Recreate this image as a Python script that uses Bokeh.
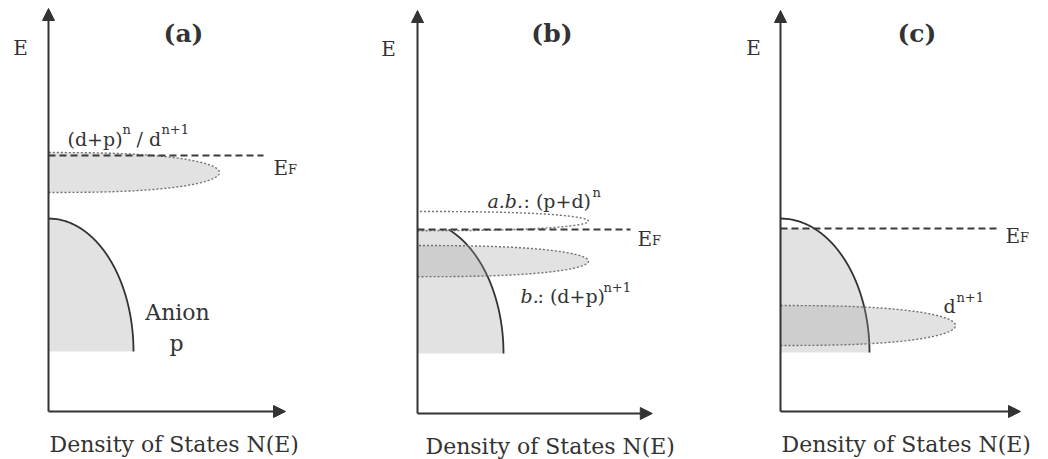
import numpy as np
from bokeh.plotting import figure
from bokeh.layouts import row
from bokeh.models import Range1d, Arrow, NormalHead
from bokeh.core.properties import value
from bokeh.embed import file_html
from bokeh.resources import INLINE

# ---------------- schematic data (arbitrary units: E up, N(E) right) ----------------
panel_titles = ["(a)", "(b)", "(c)"]
axis_E_max = [100.75, 100.75, 100.25]
axis_N_max = [59.25, 58.7, 60.0]

fermi_level = [64.0, 46.0, 45.75]
fermi_line_end = [53.75, 53.25, 54.5]

# anion p band (quarter ellipse from the E axis), filled up to E_F
anion_bottom = [15.0, 15.0, 14.75]
anion_top = [48.25, 48.25, 48.25]
anion_width = [21.25, 21.5, 22.25]
anion_outline_clipped = [False, True, False]

# cation d / hybrid bands (half ellipses out of the E axis)
band_panel = [0, 1, 1, 2]
band_center = [59.75, 48.1, 38.1, 21.5]
band_half = [5.0, 2.4, 3.9, 5.0]
band_extent = [42.75, 42.75, 42.75, 43.75]
band_filled = [True, False, True, True]

x_label = "Density of States N(E)"
y_label = "E"

# ---------------- layout ----------------
PX = 4.0                      # pixels per unit
FIG_W = [349, 349, 350]
FIG_H = 459
CORNER = [(48, 411), (68, 413), (82, 411)]   # axis origin inside each figure (px)

FONT = value("DejaVu Serif")
INK = "#333333"
FILL = "#a0a0a0"
FILL_ALPHA = 0.3
BAND_LINE = "#707070"


def txt(p, x, y, s, size, style="normal", align="left"):
    p.text(x=[x], y=[y], text=[s], text_font=FONT, text_font_size=size,
           text_font_style=style, text_align=align, text_baseline="alphabetic",
           text_color=INK)


def make_panel(i):
    ox, oy = CORNER[i]
    w = FIG_W[i]
    p = figure(width=w, height=FIG_H, output_backend="svg", toolbar_location=None,
               x_axis_location=None, y_axis_location=None, min_border=0,
               x_range=Range1d(-ox / PX, (w - ox) / PX),
               y_range=Range1d(-(FIG_H - oy) / PX, oy / PX))
    p.grid.visible = False
    p.outline_line_color = None
    p.background_fill_color = "white"
    p.border_fill_color = "white"

    ef = fermi_level[i]

    # anion p band
    b0, b1, aw = anion_bottom[i], anion_top[i], anion_width[i]
    fill_top = min(b1, ef)
    t = np.linspace(0, 1, 200)
    e_fill = b0 + (fill_top - b0) * t
    n_fill = aw * np.sqrt(np.clip(1 - ((e_fill - b0) / (b1 - b0)) ** 2, 0, None))
    p.patch(np.concatenate([[0], n_fill, [0]]), np.concatenate([[b0], e_fill, [fill_top]]),
            fill_color=FILL, fill_alpha=FILL_ALPHA, line_color=None)
    line_top = ef if anion_outline_clipped[i] else b1
    e_line = b0 + (line_top - b0) * t
    n_line = aw * np.sqrt(np.clip(1 - ((e_line - b0) / (b1 - b0)) ** 2, 0, None))
    p.line(n_line, e_line, line_color=INK, line_width=1.8)

    # d bands
    for k in range(len(band_panel)):
        if band_panel[k] != i:
            continue
        c, h, ext = band_center[k], band_half[k], band_extent[k]
        s = np.linspace(-1, 1, 301)
        n = ext * np.clip(1 - s ** 2, 0, None) ** (1 / 2.6)
        e = c + h * s
        if band_filled[k]:
            p.patch(np.concatenate([[0], n, [0]]), np.concatenate([[c - h], e, [c + h]]),
                    fill_color=FILL, fill_alpha=FILL_ALPHA, line_color=None)
        p.line(n, e, line_color=BAND_LINE, line_width=1.4, line_dash="2 2")

    # Fermi level
    p.line([0, fermi_line_end[i]], [ef, ef], line_color="#3a3a3a", line_width=2,
           line_dash="7 4")

    # axes with arrow heads
    for xe, ye in [(0, axis_E_max[i]), (axis_N_max[i], 0)]:
        p.add_layout(Arrow(end=NormalHead(size=12, fill_color=INK, line_color=INK),
                           x_start=0, y_start=0, x_end=xe, y_end=ye,
                           line_color=INK, line_width=2))

    # panel title and axis labels
    txt(p, [33.75, 33.6, 34.1][i], [94.5, 95.0, 94.5][i], panel_titles[i], "25px", "bold", "center")
    txt(p, [-7.0, -7.25, -6.75][i], [91.0, 91.25, 91.0][i], y_label, "20px", align="center")
    txt(p, [0.25, 2.0, 0.25][i], [-8.25, -8.25, -8.25][i], x_label, "22px")

    # E_F label
    ex = [56.25, 55.0, 56.25][i]
    ey = [61.0, 43.75, 44.0][i]
    txt(p, ex, ey, "E", "20px")
    txt(p, ex + 3.6, ey - 0.5, "F", "13px")
    return p


pa = make_panel(0)
txt(pa, 4.75, 68.25, "(d+p)", "19px")
txt(pa, 18.5, 70.5, "n", "13px")
txt(pa, 22.0, 68.25, "/ d", "19px")
txt(pa, 28.25, 70.5, "n+1", "13px")
txt(pa, 32.25, 24.75, "Anion", "22px", align="center")
txt(pa, 32.0, 17.0, "p", "22px", align="center")

pb = make_panel(1)
txt(pb, 17.5, 53.25, "a.b.", "19px", "italic")
txt(pb, 26.5, 53.25, ": (p+d)", "19px")
txt(pb, 43.75, 55.25, "n", "13px")
txt(pb, 25.75, 29.5, "b.", "19px", "italic")
txt(pb, 30.0, 29.5, ": (d+p)", "19px")
txt(pb, 46.5, 31.5, "n+1", "13px")

pc = make_panel(2)
txt(pc, 40.75, 26.5, "d", "19px")
txt(pc, 44.0, 28.5, "n+1", "13px")

layout = row(pa, pb, pc)
open("out.html", "w").write(file_html(layout, INLINE))
